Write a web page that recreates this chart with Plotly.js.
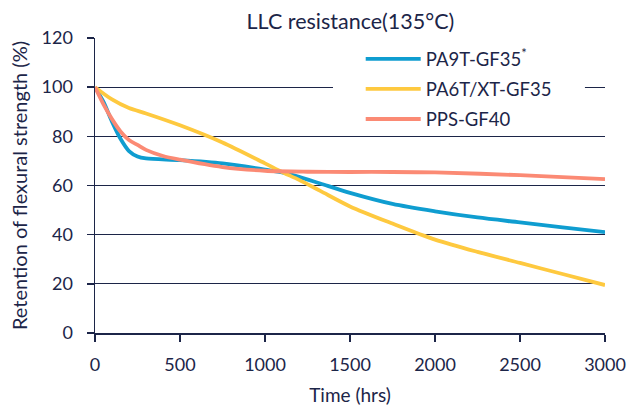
<!DOCTYPE html>
<html><head><meta charset="utf-8">
<script src="https://cdn.plot.ly/plotly-3.0.1.min.js"></script>
<style>html,body{margin:0;padding:0;background:#fff}#c{width:628px;height:406px}</style>
</head><body><div id="c"></div>
<script>
const seriesNames = ["PA9T-GF35<sup>*</sup>", "PA6T/XT-GF35", "PPS-GF40"];
const pa9tTime = [0,50,100,150,200,250,300,500,750,1000,1100,1200,1325,1500,1750,2000,2250,2500,2750,3000];
const pa9tVal  = [100,94,86,79,74,71.8,71,70.3,69,66.5,65.3,63.5,60.8,57,52.5,49.5,47,45,43,41];
const pa6tTime = [0,100,200,300,500,750,1000,1100,1200,1325,1500,1750,2000,2250,2500,2750,3000];
const pa6tVal  = [100,95,91.5,89.3,84.5,77.5,69,65.5,62.3,57.8,51.5,44.5,38,33,28.5,24,19.5];
const ppsTime  = [0,50,100,150,200,250,300,400,500,750,1000,1250,1500,1750,2000,2500,3000];
const ppsVal   = [100,93,87,82,78.5,76.5,74.5,72,70.5,67.5,66,65.6,65.5,65.5,65.3,64.2,62.6];
const colors = ["#0f9dd0", "#fec93f", "#fb8a74"];
const ink = "#1c2548";
const font = "Lato, 'Open Sans', sans-serif";

const traces = [[pa9tTime,pa9tVal],[pa6tTime,pa6tVal],[ppsTime,ppsVal]].map((d,i)=>({
  x:d[0], y:d[1], name:seriesNames[i], legendgroup:"g"+i, type:"scatter", mode:"lines",
  line:{color:colors[i], width:3.8, shape:"spline", smoothing:0.8}
}));

Plotly.newPlot("c", traces, {
  width:628, height:406,
  margin:{l:95, r:23, t:38, b:73},
  paper_bgcolor:"#fff", plot_bgcolor:"#fff",
  font:{family:font, color:ink, size:15},
  title:{text:"LLC resistance(135°C)", font:{size:21.5, color:ink}, x:0.558, xanchor:"center", y:0.948, yanchor:"middle"},
  xaxis:{range:[0,3000], dtick:500, tick0:0, showgrid:false, zeroline:false, showline:true, linecolor:ink, linewidth:1.5,
         ticks:"outside", ticklen:7, tickcolor:ink, tickwidth:1.5, tickfont:{size:18}, ticklabelstandoff:8,
         title:{text:"Time (hrs)", font:{size:19}, standoff:14}},
  yaxis:{range:[0,120], dtick:20, tick0:0, showgrid:true, gridcolor:ink, gridwidth:1, zeroline:false, showline:true, linecolor:ink, linewidth:1.5,
         ticks:"outside", ticklen:7, tickcolor:ink, tickwidth:1.5, tickfont:{size:18}, ticklabelstandoff:10,
         title:{text:"Retention of flexural strength (%)", font:{size:20}, standoff:8}},
  legend:{x:0.521, y:0.992, xanchor:"left", yanchor:"top", bgcolor:"rgba(0,0,0,0)", borderwidth:0,
          font:{size:18.5, color:ink}, itemwidth:55, tracegroupgap:3},
  shapes:[{type:"rect", xref:"x", yref:"y", x0:1400, x1:2882, y0:83, y1:117, fillcolor:"#fff", line:{width:0}, layer:"between"}],
  showlegend:true
}, {displayModeBar:false, staticPlot:true});
</script></body></html>
